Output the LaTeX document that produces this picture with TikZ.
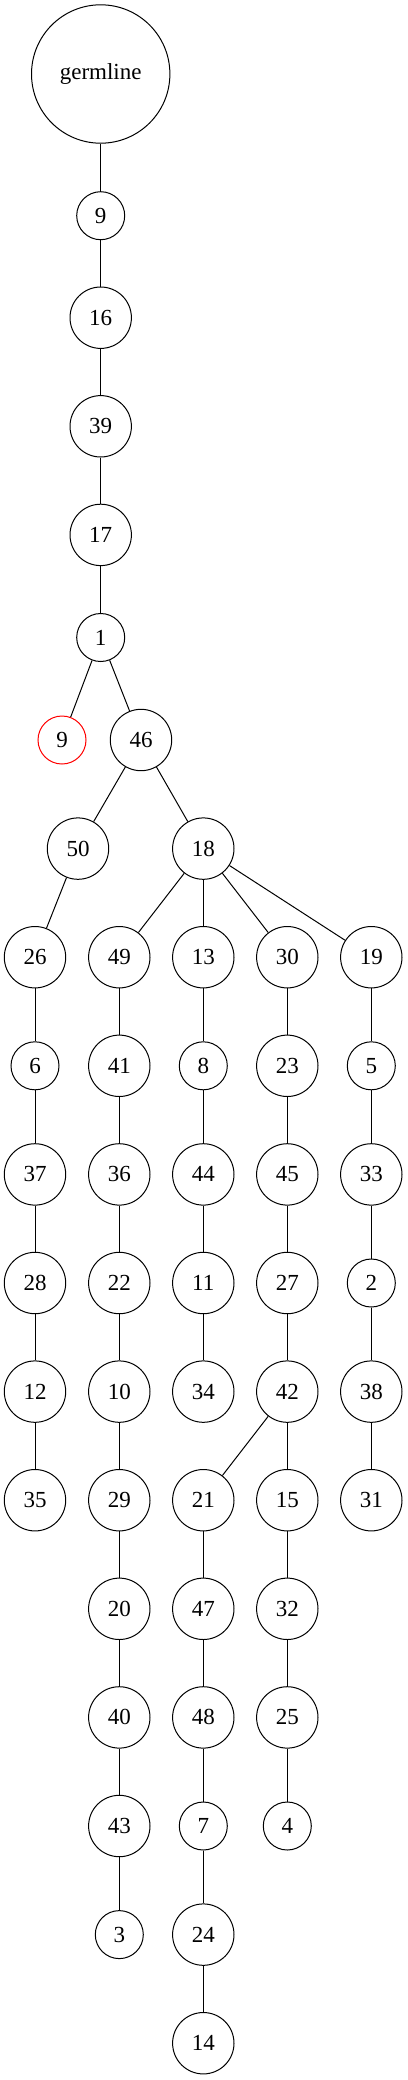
\documentclass[tikz,border=0pt]{standalone}
\usepackage{fontspec}
\setmainfont{Liberation Serif}
\usepackage{tikz}
\usetikzlibrary{positioning}
\tikzset
{
    treenode/.style = {circle, draw=black, line width=1pt, align=center, inner sep=0pt, minimum size=48pt, font=\fontsize{23}{27}\selectfont},
    widenode/.style = {treenode, minimum size=61.4pt},
    rootnode/.style = {treenode, minimum size=138.4pt},
    lostnode/.style = {treenode, draw=red}
}
\begin{document}
\begin{tikzpicture}[x=1pt, y=-1pt]
	\useasboundingbox (0,0) rectangle (407,2080);
	% trunk
	\node[rootnode] (g) at (100.7,74) {germline};
	\node[treenode] (n9a) at (100.7,215.7) {9};
	\node[widenode] (n16) at (100.7,317.7) {16};
	\node[widenode] (n39) at (100.7,426.3) {39};
	\node[widenode] (n17) at (100.7,534.9) {17};
	\node[treenode] (n1) at (100.7,637.5) {1};
	\node[lostnode] (n9r) at (62,740) {9};
	\node[widenode] (n46) at (141,740) {46};
	\node[widenode] (n50) at (78,848.6) {50};
	\node[widenode] (n18) at (203.3,848.6) {18};
	% column 1
	\node[widenode] (n26) at (35,957.2) {26};
	\node[treenode] (n6) at (35,1065.8) {6};
	\node[widenode] (n37) at (35,1174.4) {37};
	\node[widenode] (n28) at (35,1283) {28};
	\node[widenode] (n12) at (35,1391.6) {12};
	\node[widenode] (n35) at (35,1500.2) {35};
	% column 2
	\node[widenode] (n49) at (119.3,957.2) {49};
	\node[widenode] (n41) at (119.3,1065.8) {41};
	\node[widenode] (n36) at (119.3,1174.4) {36};
	\node[widenode] (n22) at (119.3,1283) {22};
	\node[widenode] (n10) at (119.3,1391.6) {10};
	\node[widenode] (n29) at (119.3,1500.2) {29};
	\node[widenode] (n20) at (119.3,1608.8) {20};
	\node[widenode] (n40) at (119.3,1717.4) {40};
	\node[widenode] (n43) at (119.3,1826) {43};
	\node[treenode] (n3) at (119.3,1934.6) {3};
	% column 3
	\node[widenode] (n13) at (203.3,957.2) {13};
	\node[treenode] (n8) at (203.3,1065.8) {8};
	\node[widenode] (n44) at (203.3,1174.4) {44};
	\node[widenode] (n11) at (203.3,1283) {11};
	\node[widenode] (n34) at (203.3,1391.6) {34};
	\node[widenode] (n21) at (203.3,1500.2) {21};
	\node[widenode] (n47) at (203.3,1608.8) {47};
	\node[widenode] (n48) at (203.3,1717.4) {48};
	\node[treenode] (n7) at (203.3,1826) {7};
	\node[widenode] (n24) at (203.3,1934.6) {24};
	\node[widenode] (n14) at (203.3,2043.2) {14};
	% column 4
	\node[widenode] (n30) at (287.3,957.2) {30};
	\node[widenode] (n23) at (287.3,1065.8) {23};
	\node[widenode] (n45) at (287.3,1174.4) {45};
	\node[widenode] (n27) at (287.3,1283) {27};
	\node[widenode] (n42) at (287.3,1391.6) {42};
	\node[widenode] (n15) at (287.3,1500.2) {15};
	\node[widenode] (n32) at (287.3,1608.8) {32};
	\node[widenode] (n25) at (287.3,1717.4) {25};
	\node[treenode] (n4) at (287.3,1826) {4};
	% column 5
	\node[widenode] (n19) at (371.3,957.2) {19};
	\node[treenode] (n5) at (371.3,1065.8) {5};
	\node[widenode] (n33) at (371.3,1174.4) {33};
	\node[treenode] (n2) at (371.3,1283) {2};
	\node[widenode] (n38) at (371.3,1391.6) {38};
	\node[widenode] (n31) at (371.3,1500.2) {31};
	% edges
	\foreach \a/\b in {g/n9a, n9a/n16, n16/n39, n39/n17, n17/n1, n1/n9r, n1/n46,
		n46/n50, n46/n18, n50/n26, n26/n6, n6/n37, n37/n28, n28/n12, n12/n35,
		n18/n49, n18/n13, n18/n30, n18/n19,
		n49/n41, n41/n36, n36/n22, n22/n10, n10/n29, n29/n20, n20/n40, n40/n43, n43/n3,
		n13/n8, n8/n44, n44/n11, n11/n34,
		n30/n23, n23/n45, n45/n27, n27/n42, n42/n21, n42/n15,
		n21/n47, n47/n48, n48/n7, n7/n24, n24/n14,
		n15/n32, n32/n25, n25/n4,
		n19/n5, n5/n33, n33/n2, n2/n38, n38/n31}
		\draw[line width=1pt] (\a) -- (\b);
\end{tikzpicture}
\end{document}
